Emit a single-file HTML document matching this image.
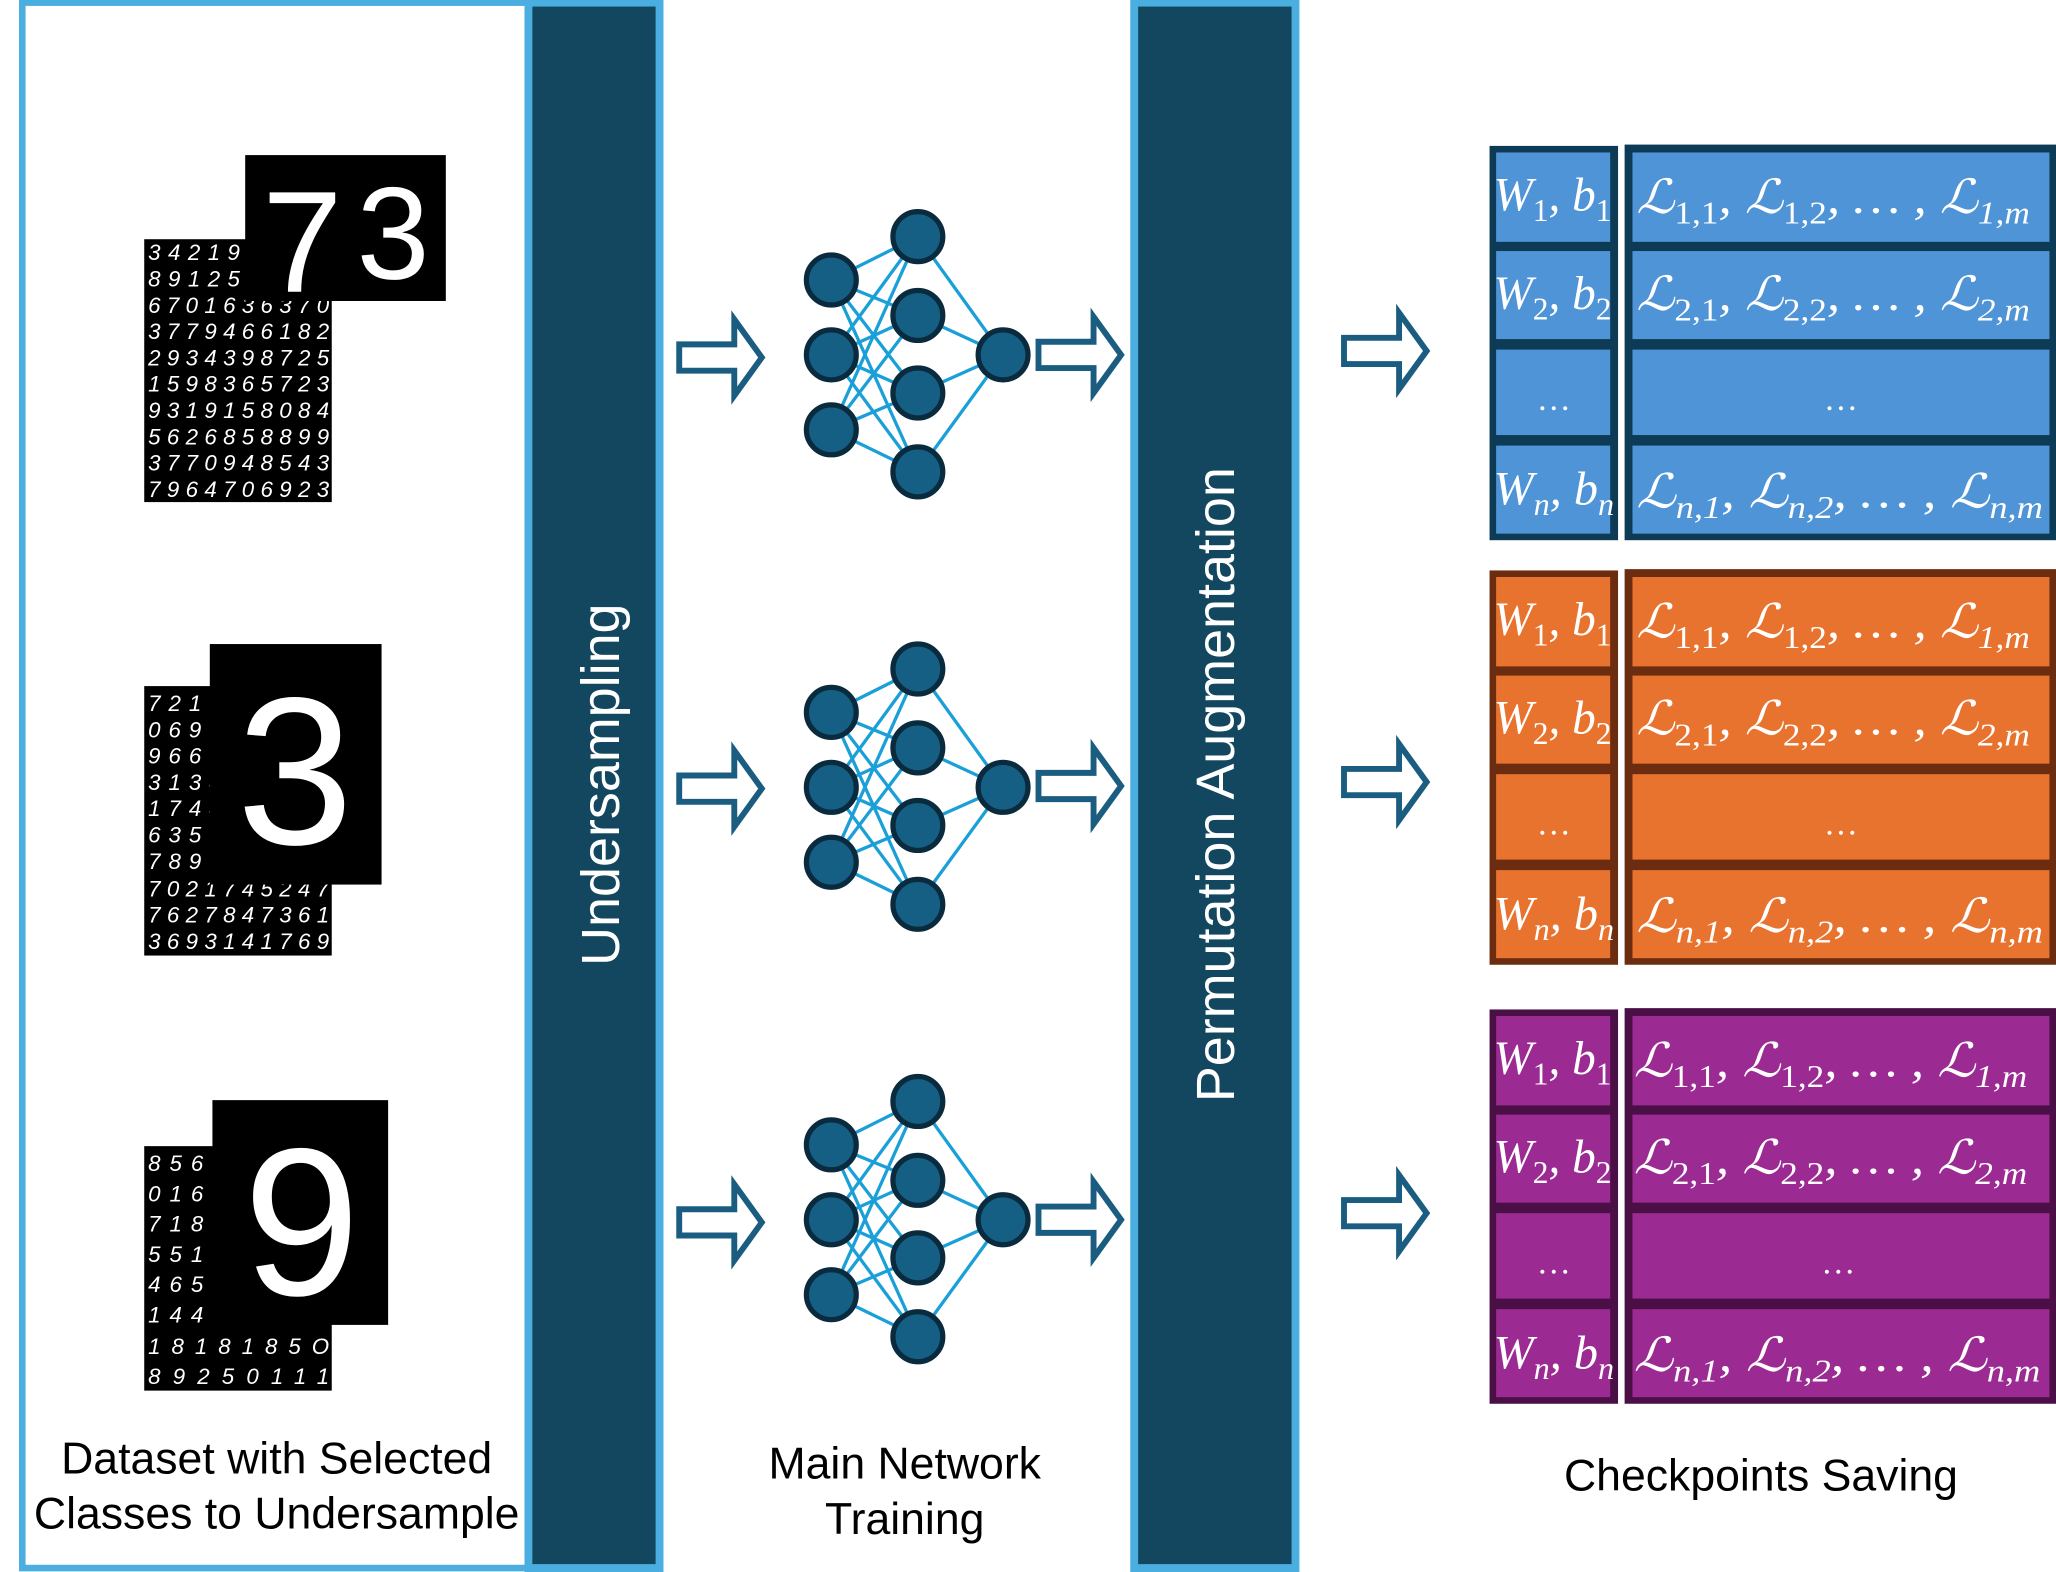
<!DOCTYPE html>
<html><head><meta charset="utf-8"><style>
html,body{margin:0;padding:0;background:#fff;}
svg{display:block;}
</style></head><body>
<svg width="2056" height="1572" viewBox="0 0 1568 1196" preserveAspectRatio="none" xmlns="http://www.w3.org/2000/svg">
<defs>
<g id="arr"><polygon points="0,-10 42,-10 42,-29 63,0 42,29 42,10 0,10" fill="#fff" stroke="#1a5d80" stroke-width="4.5" stroke-linejoin="miter"/></g>
<g id="net">
 <g stroke="#1a9fd8" stroke-width="2.5">
  <line x1="634" y1="-57" x2="700" y2="-90"/><line x1="634" y1="-57" x2="700" y2="-30"/><line x1="634" y1="-57" x2="700" y2="29"/><line x1="634" y1="-57" x2="700" y2="89"/>
  <line x1="634" y1="0" x2="700" y2="-90"/><line x1="634" y1="0" x2="700" y2="-30"/><line x1="634" y1="0" x2="700" y2="29"/><line x1="634" y1="0" x2="700" y2="89"/>
  <line x1="634" y1="57" x2="700" y2="-90"/><line x1="634" y1="57" x2="700" y2="-30"/><line x1="634" y1="57" x2="700" y2="29"/><line x1="634" y1="57" x2="700" y2="89"/>
  <line x1="700" y1="-90" x2="765" y2="0"/><line x1="700" y1="-30" x2="765" y2="0"/><line x1="700" y1="29" x2="765" y2="0"/><line x1="700" y1="89" x2="765" y2="0"/>
 </g>
 <g fill="#155f85" stroke="#0a2a3d" stroke-width="4">
  <circle cx="634" cy="-57" r="19"/><circle cx="634" cy="0" r="19"/><circle cx="634" cy="57" r="19"/>
  <circle cx="700" cy="-90" r="19"/><circle cx="700" cy="-30" r="19"/><circle cx="700" cy="29" r="19"/><circle cx="700" cy="89" r="19"/>
  <circle cx="765" cy="0" r="19"/>
 </g>
</g>
</defs>

<!-- left panel -->
<rect x="17" y="2" width="486" height="1191" fill="#fff" stroke="#4aaee0" stroke-width="5"/>
<rect x="403" y="2" width="100" height="1191" fill="#12475f" stroke="#4aaee0" stroke-width="6"/>
<text transform="translate(472,597) rotate(-90)" text-anchor="middle" font-family="Liberation Sans, sans-serif" font-size="41" fill="#fff">Undersampling</text>

<!-- permutation bar -->
<rect x="865" y="2" width="123" height="1191" fill="#12475f" stroke="#4aaee0" stroke-width="6"/>
<text transform="translate(941,597) rotate(-90)" text-anchor="middle" font-family="Liberation Sans, sans-serif" font-size="41" fill="#fff">Permutation Augmentation</text>

<!-- MNIST 1 -->
<g font-family="Liberation Sans, sans-serif" font-style="italic" fill="#fff" font-size="17">
<rect x="110" y="182" width="143" height="200" fill="#000"/>
<text x="113" y="198" textLength="70">34219</text>
<text x="113" y="218" textLength="70">89125</text>
<text x="113" y="238" textLength="138">6701636370</text>
<text x="113" y="258" textLength="138">3779466182</text>
<text x="113" y="278" textLength="138">2934398725</text>
<text x="113" y="298" textLength="138">1598365723</text>
<text x="113" y="318" textLength="138">9319158084</text>
<text x="113" y="338" textLength="138">5626858899</text>
<text x="113" y="358" textLength="138">3770948543</text>
<text x="113" y="378" textLength="138">7964706923</text>
</g>
<rect x="187" y="118" width="153" height="111" fill="#000"/>
<text x="200" y="222" font-family="Liberation Sans, sans-serif" font-size="110" fill="#fff">7</text>
<text x="272" y="212" font-family="Liberation Sans, sans-serif" font-size="100" fill="#fff">3</text>

<!-- MNIST 2 -->
<g font-family="Liberation Sans, sans-serif" font-style="italic" fill="#fff" font-size="17">
<rect x="110" y="522" width="143" height="205" fill="#000"/>
<text x="113" y="541" textLength="56">7210</text>
<text x="113" y="561" textLength="56">0690</text>
<text x="113" y="581" textLength="56">9665</text>
<text x="113" y="601" textLength="56">3134</text>
<text x="113" y="621" textLength="56">1744</text>
<text x="113" y="641" textLength="56">6355</text>
<text x="113" y="661" textLength="56">7893</text>
<text x="113" y="682" textLength="138">7021745247</text>
<text x="113" y="702" textLength="138">7627847361</text>
<text x="113" y="722" textLength="138">3693141769</text>
</g>
<rect x="160" y="490" width="131" height="183" fill="#000"/>
<text x="225" y="642" text-anchor="middle" font-family="Liberation Sans, sans-serif" font-size="160" fill="#fff">3</text>

<!-- MNIST 3 -->
<g font-family="Liberation Sans, sans-serif" font-style="italic" fill="#fff" font-size="17">
<rect x="110" y="872" width="143" height="186" fill="#000"/>
<text x="113" y="891" textLength="42">856</text>
<text x="113" y="914" textLength="42">016</text>
<text x="113" y="937" textLength="42">718</text>
<text x="113" y="960" textLength="42">551</text>
<text x="113" y="983" textLength="42">465</text>
<text x="113" y="1006" textLength="42">144</text>
<text x="113" y="1030" textLength="138">1818185O</text>
<text x="113" y="1053" textLength="138">89250111</text>
</g>
<rect x="162" y="837" width="134" height="171" fill="#000"/>
<text x="230" y="985" text-anchor="middle" font-family="Liberation Sans, sans-serif" font-size="160" fill="#fff">9</text>

<!-- captions -->
<g font-family="Liberation Sans, sans-serif" font-size="34" fill="#000" text-anchor="middle">
<text x="211" y="1121">Dataset with Selected</text>
<text x="211" y="1163">Classes to Undersample</text>
<text x="690" y="1125">Main Network</text>
<text x="690" y="1167">Training</text>
<text x="1343" y="1134">Checkpoints Saving</text>
</g>

<!-- arrows -->
<use href="#arr" x="518" y="272"/><use href="#arr" x="518" y="600"/><use href="#arr" x="518" y="930"/>
<use href="#arr" x="792" y="270"/><use href="#arr" x="792" y="598"/><use href="#arr" x="792" y="928"/>
<use href="#arr" x="1025" y="267"/><use href="#arr" x="1025" y="595"/><use href="#arr" x="1025" y="923"/>

<!-- networks -->
<use href="#net" x="0" y="270"/>
<use href="#net" x="0" y="599"/>
<use href="#net" x="0" y="928"/>

<!-- tables -->
<g font-family="Liberation Serif, serif" font-style="italic" fill="#fff">
<rect x="1136" y="111" width="98" height="300" fill="#0d3b55"/>
<rect x="1239" y="110" width="329" height="301" fill="#0d3b55"/>
<g fill="#4f94d6">
<rect x="1141" y="116" width="87" height="68"/><rect x="1141" y="191" width="87" height="67"/><rect x="1141" y="266" width="87" height="65"/><rect x="1141" y="339" width="87" height="67"/>
<rect x="1245" y="116" width="318" height="68"/><rect x="1245" y="191" width="318" height="67"/><rect x="1245" y="266" width="318" height="65"/><rect x="1245" y="339" width="318" height="67"/>
</g>
<rect x="1136" y="434" width="98" height="300" fill="#6b2c10"/>
<rect x="1239" y="433" width="329" height="301" fill="#6b2c10"/>
<g fill="#e8732f">
<rect x="1141" y="439" width="87" height="68"/><rect x="1141" y="514" width="87" height="67"/><rect x="1141" y="589" width="87" height="65"/><rect x="1141" y="662" width="87" height="67"/>
<rect x="1245" y="439" width="318" height="68"/><rect x="1245" y="514" width="318" height="67"/><rect x="1245" y="589" width="318" height="65"/><rect x="1245" y="662" width="318" height="67"/>
</g>
<rect x="1136" y="768" width="98" height="300" fill="#4a0f45"/>
<rect x="1239" y="767" width="329" height="301" fill="#4a0f45"/>
<g fill="#9b2a92">
<rect x="1141" y="773" width="87" height="68"/><rect x="1141" y="848" width="87" height="67"/><rect x="1141" y="923" width="87" height="65"/><rect x="1141" y="996" width="87" height="67"/>
<rect x="1245" y="773" width="318" height="68"/><rect x="1245" y="848" width="318" height="67"/><rect x="1245" y="923" width="318" height="65"/><rect x="1245" y="996" width="318" height="67"/>
</g>

<g font-size="36">
<text x="1139" y="160" textLength="90" lengthAdjust="spacingAndGlyphs">W<tspan font-size="24" font-style="normal" dy="8">1</tspan><tspan dy="-8">, b</tspan><tspan font-size="24" font-style="normal" dy="8">1</tspan></text>
<text x="1139" y="235" textLength="90" lengthAdjust="spacingAndGlyphs">W<tspan font-size="24" font-style="normal" dy="8">2</tspan><tspan dy="-8">, b</tspan><tspan font-size="24" font-style="normal" dy="8">2</tspan></text>
<text x="1185" y="312" font-style="normal" font-size="26" text-anchor="middle">…</text>
<text x="1139" y="384" textLength="92" lengthAdjust="spacingAndGlyphs">W<tspan font-size="24" dy="8">n</tspan><tspan dy="-8">, b</tspan><tspan font-size="24" dy="8">n</tspan></text>
<text x="1248" y="162" textLength="300" lengthAdjust="spacingAndGlyphs">ℒ<tspan font-size="24" font-style="normal" dy="8">1,1</tspan><tspan dy="-8">, ℒ</tspan><tspan font-size="24" font-style="normal" dy="8">1,2</tspan><tspan dy="-8">, … , ℒ</tspan><tspan font-size="24" dy="8">1,m</tspan></text>
<text x="1248" y="236" textLength="300" lengthAdjust="spacingAndGlyphs">ℒ<tspan font-size="24" font-style="normal" dy="8">2,1</tspan><tspan dy="-8">, ℒ</tspan><tspan font-size="24" font-style="normal" dy="8">2,2</tspan><tspan dy="-8">, … , ℒ</tspan><tspan font-size="24" dy="8">2,m</tspan></text>
<text x="1404" y="312" font-style="normal" font-size="26" text-anchor="middle">…</text>
<text x="1248" y="386" textLength="310" lengthAdjust="spacingAndGlyphs">ℒ<tspan font-size="24" dy="8">n,1</tspan><tspan dy="-8">, ℒ</tspan><tspan font-size="24" dy="8">n,2</tspan><tspan dy="-8">, … , ℒ</tspan><tspan font-size="24" dy="8">n,m</tspan></text>
<text x="1139" y="483" textLength="90" lengthAdjust="spacingAndGlyphs">W<tspan font-size="24" font-style="normal" dy="8">1</tspan><tspan dy="-8">, b</tspan><tspan font-size="24" font-style="normal" dy="8">1</tspan></text>
<text x="1139" y="558" textLength="90" lengthAdjust="spacingAndGlyphs">W<tspan font-size="24" font-style="normal" dy="8">2</tspan><tspan dy="-8">, b</tspan><tspan font-size="24" font-style="normal" dy="8">2</tspan></text>
<text x="1185" y="635" font-style="normal" font-size="26" text-anchor="middle">…</text>
<text x="1139" y="707" textLength="92" lengthAdjust="spacingAndGlyphs">W<tspan font-size="24" dy="8">n</tspan><tspan dy="-8">, b</tspan><tspan font-size="24" dy="8">n</tspan></text>
<text x="1248" y="485" textLength="300" lengthAdjust="spacingAndGlyphs">ℒ<tspan font-size="24" font-style="normal" dy="8">1,1</tspan><tspan dy="-8">, ℒ</tspan><tspan font-size="24" font-style="normal" dy="8">1,2</tspan><tspan dy="-8">, … , ℒ</tspan><tspan font-size="24" dy="8">1,m</tspan></text>
<text x="1248" y="559" textLength="300" lengthAdjust="spacingAndGlyphs">ℒ<tspan font-size="24" font-style="normal" dy="8">2,1</tspan><tspan dy="-8">, ℒ</tspan><tspan font-size="24" font-style="normal" dy="8">2,2</tspan><tspan dy="-8">, … , ℒ</tspan><tspan font-size="24" dy="8">2,m</tspan></text>
<text x="1404" y="635" font-style="normal" font-size="26" text-anchor="middle">…</text>
<text x="1248" y="709" textLength="310" lengthAdjust="spacingAndGlyphs">ℒ<tspan font-size="24" dy="8">n,1</tspan><tspan dy="-8">, ℒ</tspan><tspan font-size="24" dy="8">n,2</tspan><tspan dy="-8">, … , ℒ</tspan><tspan font-size="24" dy="8">n,m</tspan></text>
<text x="1139" y="817" textLength="90" lengthAdjust="spacingAndGlyphs">W<tspan font-size="24" font-style="normal" dy="8">1</tspan><tspan dy="-8">, b</tspan><tspan font-size="24" font-style="normal" dy="8">1</tspan></text>
<text x="1139" y="892" textLength="90" lengthAdjust="spacingAndGlyphs">W<tspan font-size="24" font-style="normal" dy="8">2</tspan><tspan dy="-8">, b</tspan><tspan font-size="24" font-style="normal" dy="8">2</tspan></text>
<text x="1185" y="969" font-style="normal" font-size="26" text-anchor="middle">…</text>
<text x="1139" y="1041" textLength="92" lengthAdjust="spacingAndGlyphs">W<tspan font-size="24" dy="8">n</tspan><tspan dy="-8">, b</tspan><tspan font-size="24" dy="8">n</tspan></text>
<text x="1246" y="819" textLength="300" lengthAdjust="spacingAndGlyphs">ℒ<tspan font-size="24" font-style="normal" dy="8">1,1</tspan><tspan dy="-8">, ℒ</tspan><tspan font-size="24" font-style="normal" dy="8">1,2</tspan><tspan dy="-8">, … , ℒ</tspan><tspan font-size="24" dy="8">1,m</tspan></text>
<text x="1246" y="893" textLength="300" lengthAdjust="spacingAndGlyphs">ℒ<tspan font-size="24" font-style="normal" dy="8">2,1</tspan><tspan dy="-8">, ℒ</tspan><tspan font-size="24" font-style="normal" dy="8">2,2</tspan><tspan dy="-8">, … , ℒ</tspan><tspan font-size="24" dy="8">2,m</tspan></text>
<text x="1402" y="969" font-style="normal" font-size="26" text-anchor="middle">…</text>
<text x="1246" y="1043" textLength="310" lengthAdjust="spacingAndGlyphs">ℒ<tspan font-size="24" dy="8">n,1</tspan><tspan dy="-8">, ℒ</tspan><tspan font-size="24" dy="8">n,2</tspan><tspan dy="-8">, … , ℒ</tspan><tspan font-size="24" dy="8">n,m</tspan></text>
</g>
</g>
</svg>
</body></html>
